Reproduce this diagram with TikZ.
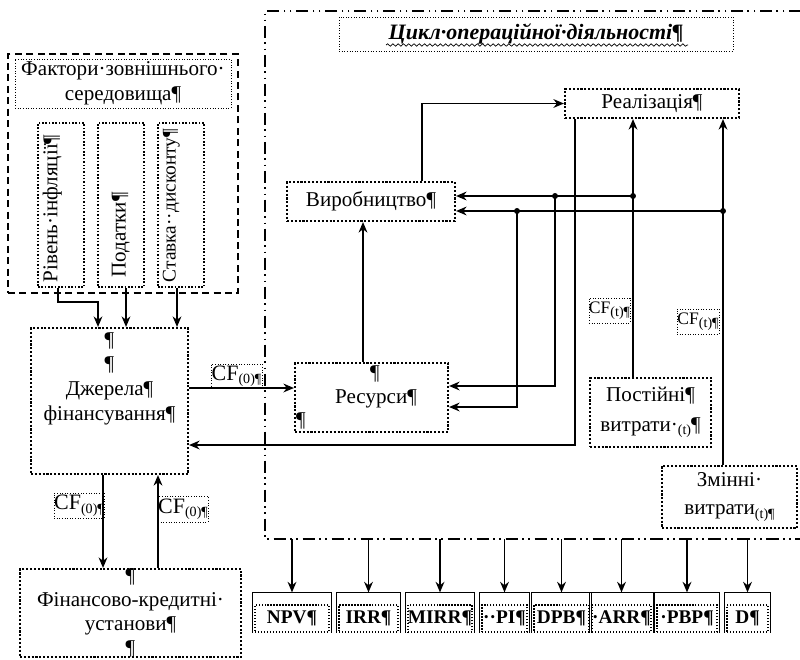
\documentclass[tikz,border=0pt]{standalone}
\usepackage{fontspec}
\setmainfont{Liberation Serif}
\usetikzlibrary{arrows.meta, decorations.pathmorphing}

\newcommand\pxu{0.02cm}
\newcommand\lowsub[1]{\raisebox{-0.35ex}{\footnotesize #1}}

\begin{document}
\begin{tikzpicture}[
    x=0.02cm, y=-0.02cm,
    >={Stealth[length=6pt, width=5pt]},
    line width=0.9pt,
    every node/.style={font=\fontsize{12}{14}\selectfont, inner sep=1pt},
    blk/.style={draw, densely dotted, line width=1.2pt, inner sep=0pt},
    thinbox/.style={draw, densely dotted, line width=0.5pt, inner sep=0pt},
    cflbl/.style={thinbox, font=\fontsize{12.5}{13}\selectfont},
    cfsmall/.style={thinbox, font=\fontsize{10}{10}\selectfont},
    vbox/.style={draw, densely dotted, line width=0.9pt, minimum width=46*\pxu, minimum height=164*\pxu},
    vlbl/.style={rotate=90, anchor=north west, font=\fontsize{12}{12}\selectfont},
    kpi/.style={draw, densely dotted, line width=0.7pt, minimum height=27*\pxu, inner sep=0pt, font=\bfseries\fontsize{11}{11}\selectfont},
    opsline/.style={line width=1pt, dash pattern=on 7pt off 2.5pt on 1pt off 2.5pt on 1pt off 2.5pt}
]
\useasboundingbox (0,0) rectangle (800,659);
% External factors
\node[draw, dash pattern=on 4pt off 2.5pt, line width=1pt, minimum width=230*\pxu, minimum height=239*\pxu] (env) at (123,173.5) {};
\node[thinbox, minimum width=216*\pxu, minimum height=49*\pxu, align=center] (envttl) at (123,83.5) {Фактори·зовнішнього·\\середовища¶};
\node[vbox] (infl) at (61,205) {};
\node[vbox] (tax) at (121,205) {};
\node[vbox] (disc) at (181,205) {};
\node[vlbl] (infltxt) at ([xshift=3*\pxu, yshift=3*\pxu]infl.south west) {Рівень·інфляції¶};
\node[vlbl] (taxtxt) at ([xshift=12*\pxu, yshift=8*\pxu]tax.south west) {Податки¶};
\node[vlbl, font=\fontsize{11}{11}\selectfont] (disctxt) at ([xshift=3*\pxu, yshift=3*\pxu]disc.south west) {Ставка··дисконту¶};
% Financing
\node[blk, minimum width=157*\pxu, minimum height=146*\pxu] (dzh) at (109.5,401) {};
\node[anchor=north, align=center] (dzhtxt) at ([yshift=-3*\pxu]dzh.north) {¶\\¶\\Джерела¶\\фінансування¶};
\node[blk, minimum width=221*\pxu, minimum height=88*\pxu] (fin) at (130.5,613) {};
\node[align=center, font=\fontsize{12}{13.6}\selectfont] (fintxt) at (fin.center) {¶\\Фінансово-кредитні·\\установи¶\\¶};
% Operating cycle
\coordinate (opsnw) at (265,11);
\coordinate (opssw) at (265,539);
\draw[opsline] (801,11) -- (opsnw) -- (opssw) -- (801,539);
\node[thinbox, minimum width=394*\pxu, minimum height=34*\pxu, font=\bfseries\itshape\fontsize{12.5}{13}\selectfont] (opttl) at (536,34) {Цикл·операційної·діяльності¶};
\draw[decorate, decoration={snake, amplitude=0.7pt, segment length=3pt}, line width=0.4pt] (386,45) -- (688,45);
\node[blk, minimum width=174*\pxu, minimum height=29*\pxu] (real) at (652,103.5) {Реалізація¶};
\node[blk, minimum width=168*\pxu, minimum height=39*\pxu] (vyr) at (371,201.5) {Виробництво¶};
\node[blk, minimum width=153*\pxu, minimum height=69*\pxu] (res) at (371.5,397.5) {};
\node (restxt) at (376,399) {Ресурси¶};
\node (respa) at (375,374) {¶};
\node (respb) at (301,421) {¶};
\node[blk, minimum width=121*\pxu, minimum height=69*\pxu, align=center, font=\fontsize{12}{17}\selectfont] (post) at (650.5,412.5) {Постійні¶\\витрати·\lowsub{(t)}¶};
\node[blk, minimum width=135*\pxu, minimum height=62*\pxu, align=center, font=\fontsize{12}{16}\selectfont] (zmin) at (729.5,497) {Змінні·\\витрати\lowsub{(t)¶}};
% Cash flow labels
\node[cflbl, minimum width=51*\pxu, minimum height=24*\pxu] (cfa) at (236.5,376) {CF\lowsub{(0)¶}};
\node[cflbl, minimum width=50*\pxu, minimum height=25*\pxu] (cfb) at (79,505.5) {CF\lowsub{(0)¶}};
\node[cflbl, minimum width=50*\pxu, minimum height=26*\pxu] (cfc) at (183,509) {CF\lowsub{(0)¶}};
\node[cfsmall, minimum width=39*\pxu, minimum height=25*\pxu] (cfd) at (609.5,310.5) {CF\lowsub{(t)¶}};
\node[cfsmall, minimum width=42*\pxu, minimum height=25*\pxu] (cfe) at (698,321.5) {CF\lowsub{(t)¶}};
% Connectors
\coordinate (bend) at (98,302);
\draw[->] (infl.south -| 58,0) |- (bend) -- (bend |- dzh.north);
\draw[->] (tax.south -| 126,0) -- (dzh.north -| 126,0);
\draw[->] (disc.south -| 177,0) -- (dzh.north -| 177,0);
\draw[->] (dzh.east |- 0,388) -- (res.west |- 0,388);
\draw[->] (real.south -| 575,0) |- (dzh.east |- 0,445);
\draw[->] (dzh.south -| 103,0) -- (fin.north -| 103,0);
\draw[->] (fin.north -| 158,0) -- (dzh.south -| 158,0);
\draw[->] (vyr.north -| 422,0) |- (real.west);
\draw[->] (res.north -| 363,0) -- (vyr.south -| 363,0);
\draw[->] (post.north -| 633,0) -- (real.south -| 633,0);
\draw[->] (zmin.north -| 723,0) -- (real.south -| 723,0);
\coordinate (ja) at (633,196); \coordinate (jb) at (555,196);
\coordinate (jc) at (723,211); \coordinate (jd) at (517,211);
\draw[->] (ja) -- (vyr.east |- ja);
\draw[->] (jc) -- (vyr.east |- jc);
\draw[->] (jb) |- (res.east |- 0,386);
\draw[->] (jd) |- (res.east |- 0,407);
\foreach \j in {ja,jb,jc,jd} \fill (\j) circle (1.7pt);
% Indicators
\foreach \nm/\cx/\w/\txt in {npv/292/74/{NPV¶}, irr/368.5/59/{IRR¶}, mirr/440/62/{MIRR¶}, pi/504.5/45/{··PI¶},
                             dpb/561.5/55/{DPB¶}, arr/621.5/55/{·ARR¶}, pbp/687/60/{·PBP¶}, d/747.5/41/{D¶}} {
  \node[kpi, minimum width=\w*\pxu] (\nm) at (\cx,618.5) {\txt};
  \draw[line width=0.7pt] ([xshift=-2*\pxu]\nm.south west) -- ([xshift=-2*\pxu, yshift=12*\pxu]\nm.north west)
      -- ([xshift=2*\pxu, yshift=12*\pxu]\nm.north east) -- ([xshift=2*\pxu]\nm.south east);
  \draw[->] (opssw -| \nm.north) -- ([yshift=12*\pxu]\nm.north);
}
\end{tikzpicture}
\end{document}
